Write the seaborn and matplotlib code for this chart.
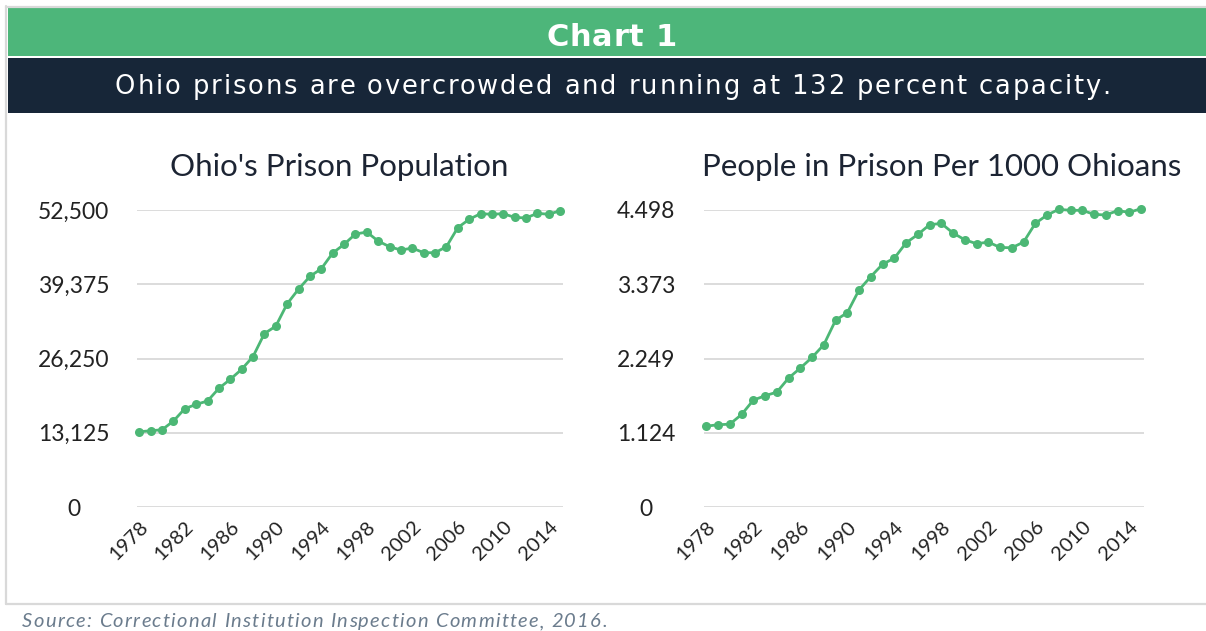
import matplotlib
matplotlib.use("Agg")
import matplotlib.pyplot as plt
import pandas as pd
import seaborn as sns
from matplotlib.lines import Line2D
from matplotlib.patches import Rectangle

# data
years = list(range(1978, 2016))
prison_population = [
    13300, 13480, 13650, 15190, 17375, 18140, 18735, 20980, 22570, 24340,
    26590, 30660, 31960, 35915, 38510, 40760, 42110, 44890, 46420, 48250,
    48600, 47010, 46010, 45420, 45770, 44950, 44950, 46010, 49380, 50850,
    51850, 51740, 51850, 51200, 51090, 51920, 51740, 52380,
]
per_1000 = [
    1.225, 1.245, 1.255, 1.401, 1.619, 1.685, 1.740, 1.953, 2.104, 2.266,
    2.458, 2.828, 2.944, 3.288, 3.490, 3.677, 3.768, 4.001, 4.127, 4.275,
    4.295, 4.148, 4.047, 3.987, 4.012, 3.931, 3.926, 4.012, 4.295, 4.422,
    4.508, 4.493, 4.493, 4.432, 4.422, 4.488, 4.463, 4.518,
]
year_ticks = list(range(1978, 2015, 4))
pop_ticks = [0, 13125, 26250, 39375, 52500]
pop_labels = ["0", "13,125", "26,250", "39,375", "52,500"]
rate_ticks = [0, 1.124, 2.249, 3.373, 4.498]
rate_labels = ["0", "1.124", "2.249", "3.373", "4.498"]

header = "Chart 1"
subtitle = "Ohio prisons are overcrowded and running at 132 percent capacity."
titles = ["Ohio's Prison Population", "People in Prison Per 1000 Ohioans"]
source = "Source: Correctional Institution Inspection Committee, 2016."

# colours
green = "#4db67a"
line_green = "#4cb775"
navy = "#172638"
frame_grey = "#d9d9d9"
grid_grey = "#dcdcdc"
text_dark = "#1c2433"

W, H = 1206, 631


def fx(px):
    return px / W


def fy(py):
    return 1 - py / H


def tracked_text(fig, x0, y, s, width_px, **kw):
    # slightly letter-spaced text, stretched so the line is width_px wide
    renderer = fig.canvas.get_renderer()
    probe = fig.text(0, 0, "x", **kw)
    prop = probe.get_fontproperties()
    probe.remove()

    def w(t):
        return renderer.get_text_width_height_descent(t, prop, ismath=False)[0]

    base = w("l")
    offsets = [w(s[:i] + "l") - base if i else 0.0 for i in range(len(s))]
    extra = (width_px - w(s)) / (len(s) - 1)
    for i, c in enumerate(s):
        if c != " ":
            fig.text((x0 + offsets[i] + i * extra) / W, y, c, ha="left", **kw)


sns.set_theme(style="white")
plt.rcParams["font.family"] = ["Lato", "DejaVu Sans"]

fig = plt.figure(figsize=(W / 100, H / 100), dpi=100)

# header bands and frame
fig.add_artist(Rectangle((fx(8), fy(56)), 1 - fx(8), fy(8) - fy(56),
                         transform=fig.transFigure, color=green, lw=0))
fig.add_artist(Rectangle((fx(8), fy(113)), 1 - fx(8), fy(58) - fy(113),
                         transform=fig.transFigure, color=navy, lw=0))
fig.add_artist(Line2D([fx(6), fx(6)], [fy(6), fy(604)], transform=fig.transFigure,
                      color=frame_grey, lw=1.6))
fig.add_artist(Line2D([fx(6), 1], [fy(604), fy(604)], transform=fig.transFigure,
                      color=frame_grey, lw=1.6))
fig.add_artist(Line2D([fx(6), 1], [fy(7), fy(7)], transform=fig.transFigure,
                      color=frame_grey, lw=1.6))

tracked_text(fig, 546, fy(46.5), header, 131, va="baseline",
             fontsize=22, fontweight="bold", color="white",
             family=["DejaVu Sans"])
tracked_text(fig, 115, fy(94), subtitle, 992, va="baseline",
             fontsize=18.5, color="white", family=["DejaVu Sans"])
tracked_text(fig, 22, fy(627), source, 585, va="baseline",
             fontsize=14.5, style="italic", color="#6b7c8d")

panels = [
    dict(vals=prison_population, ticks=pop_ticks, labels=pop_labels,
         left=137, right=563, pad=45.5, title_x=339, title=titles[0]),
    dict(vals=per_1000, ticks=rate_ticks, labels=rate_labels,
         left=704, right=1144, pad=41.5, title_x=942, title=titles[1]),
]

for p in panels:
    ax = fig.add_axes([fx(p["left"]), fy(507), fx(p["right"] - p["left"]),
                       fy(210) - fy(507)])
    df = pd.DataFrame({"year": years, "value": p["vals"]})
    sns.lineplot(data=df, x="year", y="value", ax=ax, color=line_green,
                 linewidth=2, marker="o", markersize=6.5,
                 markeredgewidth=0, clip_on=False, zorder=3)
    ax.set_xlim(1977.8, 2015.25)
    ax.set_ylim(p["ticks"][0], p["ticks"][-1])
    ax.set_yticks(p["ticks"])
    ax.set_yticklabels(p["labels"])
    ax.set_xticks(year_ticks)
    ax.set_xticklabels([str(y) for y in year_ticks])
    ax.set_xlabel("")
    ax.set_ylabel("")
    ax.grid(axis="y", color=grid_grey, lw=1.4)
    ax.grid(axis="x", visible=False)
    for s in ax.spines.values():
        s.set_visible(False)
    ax.tick_params(axis="y", length=0, pad=p["pad"], labelsize=16.5,
                   labelcolor="#222222")
    ax.tick_params(axis="x", length=0, pad=8, labelsize=14.5,
                   labelcolor="#222222")
    for lab in ax.get_yticklabels():
        lab.set_horizontalalignment("center")
    for lab in ax.get_xticklabels():
        lab.set_rotation(45)
        lab.set_horizontalalignment("right")
        lab.set_rotation_mode("anchor")
    fig.text(fx(p["title_x"]), fy(176), p["title"], ha="center",
             va="baseline", fontsize=22.5, color=text_dark)

fig.savefig("out.png", dpi=100)
